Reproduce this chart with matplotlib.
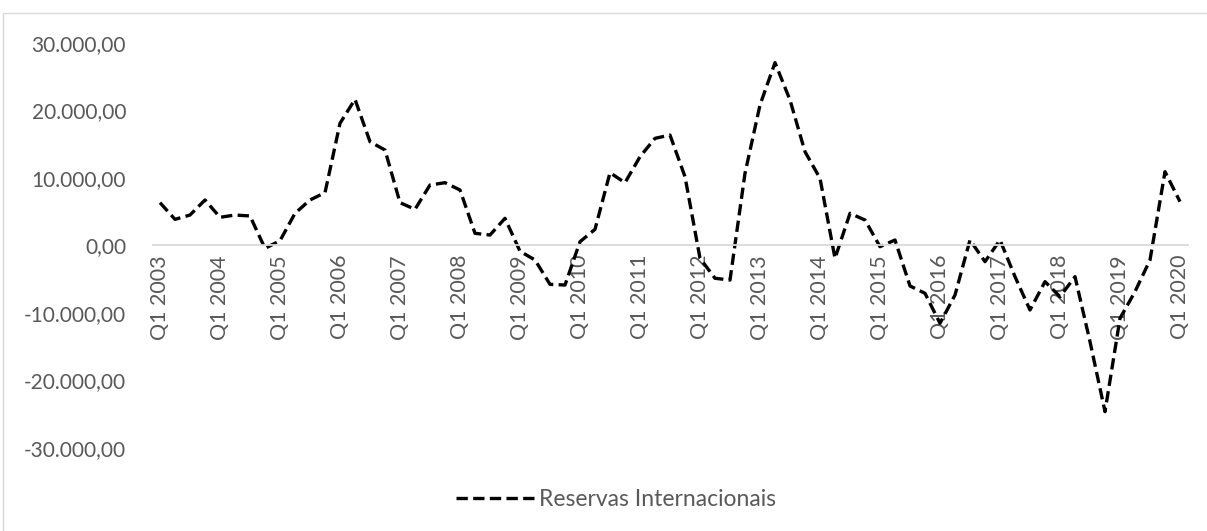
import matplotlib
matplotlib.use("Agg")
import matplotlib.pyplot as plt
from matplotlib.lines import Line2D
from matplotlib.patches import Rectangle
from matplotlib.ticker import FuncFormatter

plt.rcParams['font.family'] = ['Lato', 'DejaVu Sans']

# Quarterly change in international reserves, Q1 2003 – Q1 2020
years = list(range(2003, 2021))
quarters = [f"Q{q} {y}" for y in years for q in (1, 2, 3, 4)][:69]

reservas = [
    6300, 3830, 4470, 6700,        # 2003
    4130, 4470, 4330, -470,        # 2004
    670, 4720, 6700, 7780,         # 2005
    18060, 21610, 15330, 14100,    # 2006
    6300, 5320, 8920, 9260,        # 2007
    8180, 1760, 1510, 3980,        # 2008
    -900, -2190, -5800, -5900,     # 2009
    520, 2350, 10740, 9260,        # 2010
    13110, 15830, 16320, 10150,    # 2011
    -1940, -4900, -5160, 10650,    # 2012
    20770, 27040, 21510, 13850,    # 2013
    9910, -1940, 4720, 3730,       # 2014
    -220, 770, -6040, -7130,       # 2015
    -11570, -7380, 770, -2440,     # 2016
    770, -4660, -9600, -5400,      # 2017
    -7630, -4660, -14290, -24660,  # 2018
    -10830, -6880, -2190, 10890,   # 2019
    6450,                          # 2020
]

yticks = [-30000, -20000, -10000, 0, 10000, 20000, 30000]
series_name = "Reservas Internacionais"

W, H = 1207, 531
fig = plt.figure(figsize=(W / 100, H / 100), dpi=100)

# chart-area frame
fig.patches.append(Rectangle((3 / W, -0.01), 1.2, (531 - 13) / H + 0.01,
                             transform=fig.transFigure, fill=False,
                             edgecolor="#d9d9d9", linewidth=1.0))

left, right = 152.5 / W, 1187.5 / W
top_px, bot_px = 42.7, 447.7
ax = fig.add_axes([left, 1 - bot_px / H, right - left, (bot_px - top_px) / H])

x = list(range(len(reservas)))
ax.plot(x, reservas, color="black", linewidth=2.4, linestyle=(0, (3.4, 1.6)),
        dash_capstyle="butt", label=series_name)

ax.set_xlim(-0.5, len(reservas) - 0.5)
ax.set_ylim(-30000, 30000)

for s in ("top", "right", "left"):
    ax.spines[s].set_visible(False)
ax.spines["bottom"].set_position(("data", 0))
ax.spines["bottom"].set_color("#d9d9d9")
ax.spines["bottom"].set_linewidth(1.3)
ax.set_zorder(1)

tick_pos = x[::4]
ax.set_xticks(tick_pos)
ax.set_xticklabels([quarters[i] for i in tick_pos], rotation=90,
                   fontsize=15.5, color="#595959")
ax.tick_params(axis="x", length=0, pad=7)

ax.set_yticks(yticks)
ax.yaxis.set_major_formatter(FuncFormatter(
    lambda v, p: f"{v:,.2f}".replace(",", "X").replace(".", ",").replace("X", ".")))
ax.tick_params(axis="y", length=0, pad=19, labelsize=15, labelcolor="#595959")

handle = Line2D([], [], color="black", linewidth=2.4, linestyle=(0, (3.4, 1.6)))
fig.legend([handle], [series_name], loc="center", bbox_to_anchor=(616 / W, 1 - 500 / H),
           frameon=False, fontsize=16.5, labelcolor="#595959", handlelength=3.4,
           handletextpad=0.2)

fig.savefig("out.png", dpi=100, facecolor="white")
